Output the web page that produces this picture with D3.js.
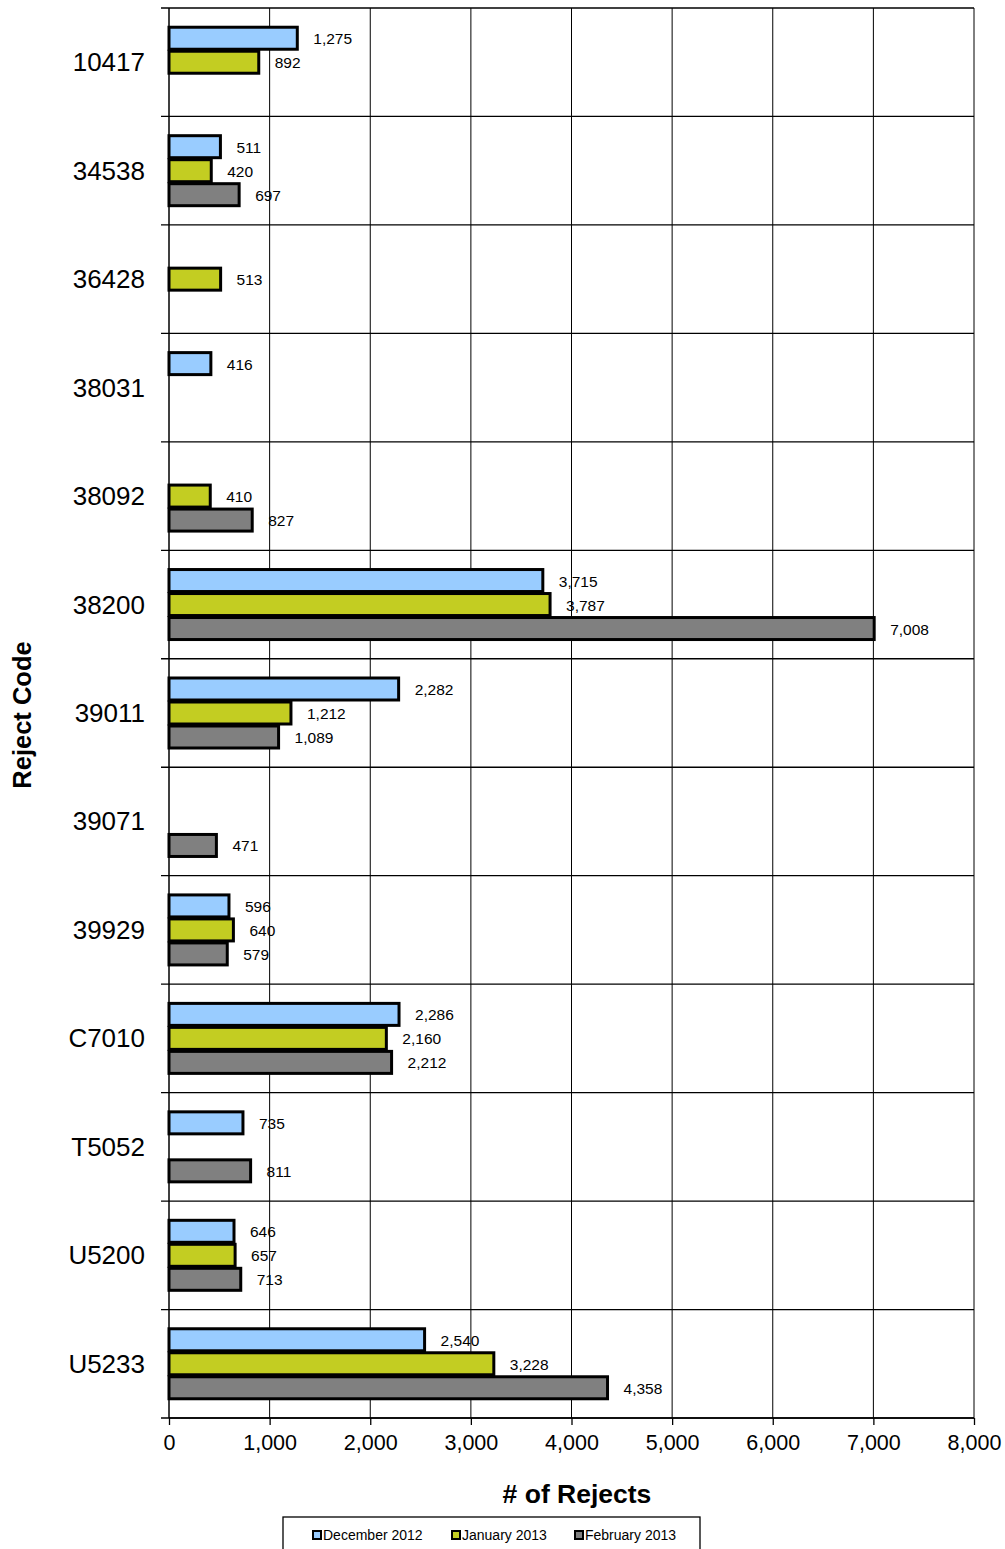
<!DOCTYPE html>
<html>
<head>
<meta charset="utf-8">
<script src="https://cdn.jsdelivr.net/npm/d3@7"></script>
<style>
  body { margin: 0; background: #fff; }
  text { font-family: "Liberation Sans", Arial, sans-serif; }
</style>
</head>
<body>
<div id="chart"></div>
<script>
// reject codes, top to bottom
var codes = ['10417', '34538', '36428', '38031', '38092', '38200', '39011', '39071', '39929', 'C7010', 'T5052', 'U5200', 'U5233'];
var seriesNames = ['December 2012', 'January 2013', 'February 2013'];
var dec2012 = [1275, 511, null, 416, null, 3715, 2282, null, 596, 2286, 735, 646, 2540];
var jan2013 = [892, 420, 513, null, 410, 3787, 1212, null, 640, 2160, null, 657, 3228];
var feb2013 = [null, 697, null, null, 827, 7008, 1089, 471, 579, 2212, 811, 713, 4358];
var xTicks = [0, 1000, 2000, 3000, 4000, 5000, 6000, 7000, 8000];
var colors = ['#99ccff', '#c3cd22', '#808080'];

var svgWidth = 1005, svgHeight = 1549;
var margin = {top: 8, left: 169, right: 31, bottom: 131};
var chartWidth = svgWidth - margin.left - margin.right;
var chartHeight = svgHeight - margin.top - margin.bottom;

var svg = d3.select('#chart').append('svg')
    .attr('width', svgWidth)
    .attr('height', svgHeight);

var chartGroup = svg.append('g')
    .attr('transform', `translate(${margin.left},${margin.top})`);

var xScale = d3.scaleLinear().domain([0, 8000]).range([0, chartWidth]);
var yScale = d3.scaleBand().domain(codes).range([0, chartHeight]);
var slot = d3.scaleBand().domain(seriesNames).range([0, 72]);

// vertical gridlines
chartGroup.selectAll('.vgrid').data(xTicks.slice(1))
  .enter().append('line')
  .attr('x1', d => xScale(d)).attr('x2', d => xScale(d))
  .attr('y1', 0).attr('y2', chartHeight)
  .attr('stroke', '#000').attr('stroke-width', 1);

// horizontal gridlines at category boundaries
var bounds = codes.map(c => yScale(c)).concat([chartHeight]);
chartGroup.selectAll('.hgrid').data(bounds)
  .enter().append('line')
  .attr('x1', -8).attr('x2', chartWidth)
  .attr('y1', d => d).attr('y2', d => d)
  .attr('stroke', '#000').attr('stroke-width', 1.3);

// bars
var series = [dec2012, jan2013, feb2013];
var bars = [];
series.forEach((vals, si) => {
  vals.forEach((v, i) => {
    if (v != null) bars.push({code: codes[i], s: seriesNames[si], si: si, v: v});
  });
});

var y0 = (yScale.bandwidth() - 72) / 2;

chartGroup.selectAll('.bar').data(bars)
  .enter().append('rect')
  .attr('x', 0)
  .attr('y', d => yScale(d.code) + y0 + slot(d.s) + 1)
  .attr('width', d => xScale(d.v))
  .attr('height', slot.bandwidth() - 2)
  .attr('fill', d => colors[d.si])
  .attr('stroke', '#000')
  .attr('stroke-width', 3);

chartGroup.selectAll('.lbl').data(bars)
  .enter().append('text')
  .attr('x', d => xScale(d.v) + 16)
  .attr('y', d => yScale(d.code) + y0 + slot(d.s) + slot.bandwidth() / 2 + 6)
  .attr('font-size', 15.5)
  .text(d => d3.format(',')(d.v));

// left axis line
chartGroup.append('line')
  .attr('x1', 0).attr('x2', 0).attr('y1', 0).attr('y2', chartHeight)
  .attr('stroke', '#000').attr('stroke-width', 1.5);

// category labels
chartGroup.selectAll('.cat').data(codes)
  .enter().append('text')
  .attr('x', -24)
  .attr('y', d => yScale(d) + yScale.bandwidth() / 2 + 9)
  .attr('text-anchor', 'end')
  .attr('font-size', 26)
  .text(d => d);

// bottom axis
var bottomAxis = d3.axisBottom(xScale)
  .tickValues(xTicks)
  .tickSize(7)
  .tickFormat(d3.format(','));
var xAxis = chartGroup.append('g')
  .attr('transform', `translate(0,${chartHeight})`)
  .call(bottomAxis);
xAxis.select('.domain').attr('stroke-width', 1.5).attr('d', `M0,0H${chartWidth}`);
xAxis.selectAll('.tick line').attr('stroke-width', 1.3);
xAxis.selectAll('.tick text')
  .attr('font-size', 21.5)
  .attr('y', 12)
  .attr('dy', '0.95em')
  .attr('font-family', '"Liberation Sans", Arial, sans-serif');

// axis titles
svg.append('text')
  .attr('x', 577).attr('y', 1503)
  .attr('text-anchor', 'middle')
  .attr('font-size', 26.5)
  .attr('font-weight', 'bold')
  .text('# of Rejects');

svg.append('text')
  .attr('transform', 'translate(31,715)rotate(-90)')
  .attr('text-anchor', 'middle')
  .attr('font-size', 25.5)
  .attr('font-weight', 'bold')
  .text('Reject Code');

// legend
svg.append('rect')
  .attr('x', 283).attr('y', 1517)
  .attr('width', 417).attr('height', 40)
  .attr('fill', '#fff').attr('stroke', '#000').attr('stroke-width', 1.3);

var legendX = [313, 452, 575];
var legend = svg.selectAll('.leg').data(seriesNames)
  .enter().append('g')
  .attr('transform', (d, i) => `translate(${legendX[i]},1535)`);
legend.append('rect')
  .attr('x', 0).attr('y', -4).attr('width', 8).attr('height', 8)
  .attr('fill', (d, i) => colors[i])
  .attr('stroke', '#000').attr('stroke-width', 2);
legend.append('text')
  .attr('x', 10).attr('y', 5)
  .attr('font-size', 14)
  .text(d => d);
</script>
</body>
</html>
